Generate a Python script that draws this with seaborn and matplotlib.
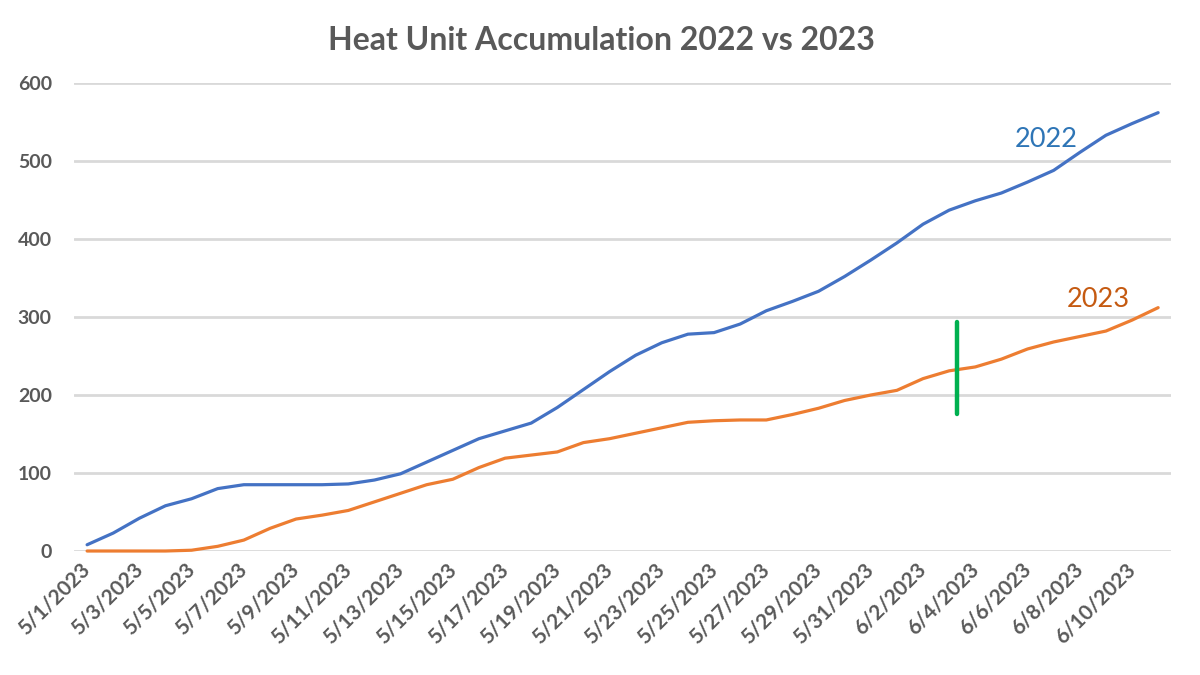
import pandas as pd
import matplotlib.pyplot as plt
import seaborn as sns
import numpy as np

# daily heat units, 5/1 through 6/11
dates = pd.date_range("2023-05-01", "2023-06-11")
hu_2022 = [8, 23, 42, 58, 67, 80, 85, 85, 85, 85, 86, 91, 99, 114, 129, 144,
           154, 164, 184, 207, 230, 251, 267, 278, 280, 291, 308, 320, 333, 352,
           373, 395, 419, 437, 449, 459, 473, 488, 511, 533, 548, 562]
hu_2023 = [0, 0, 0, 0, 1, 6, 14, 29, 41, 46, 52, 63, 74, 85, 92, 107,
           119, 123, 127, 139, 144, 151, 158, 165, 167, 168, 168, 175, 183, 193,
           200, 206, 221, 231, 236, 246, 259, 268, 275, 282, 296, 312]
series = ["2022", "2023"]
today_x = 33.3          # green marker, between 6/3 and 6/4
today_range = [176, 293]

sns.set_theme(style="white")
plt.rcParams["font.family"] = ["Lato", "DejaVu Sans"]

df = pd.DataFrame({
    "day": list(range(len(dates))) * 2,
    "hu": hu_2022 + hu_2023,
    "year": [series[0]] * len(dates) + [series[1]] * len(dates),
})

fig = plt.figure(figsize=(12, 6.75), dpi=100)
ax = fig.add_axes([0.0617, 0.1837, 0.9143, 0.6933])

sns.lineplot(data=df, x="day", y="hu", hue="year",
             palette={"2022": "#4472C4", "2023": "#ED7D31"},
             linewidth=2.3, legend=False, ax=ax, clip_on=False)

ax.plot([today_x, today_x], today_range, color="#00B050", linewidth=3.2)

ax.text(36.7, 527, "2022", color="#2E75B6", fontsize=19.5, ha="center", va="center")
ax.text(38.7, 322, "2023", color="#C55A11", fontsize=19.5, ha="center", va="center")

ax.set_xlim(-0.5, len(dates) - 0.5)
ax.set_ylim(0, 600)
ax.set_yticks(range(0, 601, 100))
ax.yaxis.grid(True, color="#D9D9D9", linewidth=2)
ax.set_axisbelow(True)
for s in ax.spines.values():
    s.set_visible(False)

ticks = list(range(0, len(dates), 2))
ax.set_xticks(ticks)
ax.set_xticklabels([f"{d.month}/{d.day}/{d.year}" for d in dates[ticks]],
                   rotation=45, ha="right", va="center", rotation_mode="anchor")
ax.set_xticks(np.arange(-0.5, len(dates), 2), minor=True)
ax.tick_params(axis="x", which="major", length=0, pad=11)
ax.tick_params(axis="x", which="minor", length=6, width=2, color="#D9D9D9", direction="out")
ax.tick_params(axis="y", length=0, pad=16)
for lab in ax.get_xticklabels():
    lab.set_fontweight("bold")
    lab.set_fontsize(15)
    lab.set_color("#595959")
for lab in ax.get_yticklabels():
    lab.set_fontweight("bold")
    lab.set_fontsize(14)
    lab.set_color("#595959")

ax.set_xlabel("")
ax.set_ylabel("")
fig.suptitle("Heat Unit Accumulation 2022 vs 2023", x=0.501, y=0.962,
             fontsize=23, fontweight="bold", color="#595959")

plt.savefig("out.png", dpi=100)
